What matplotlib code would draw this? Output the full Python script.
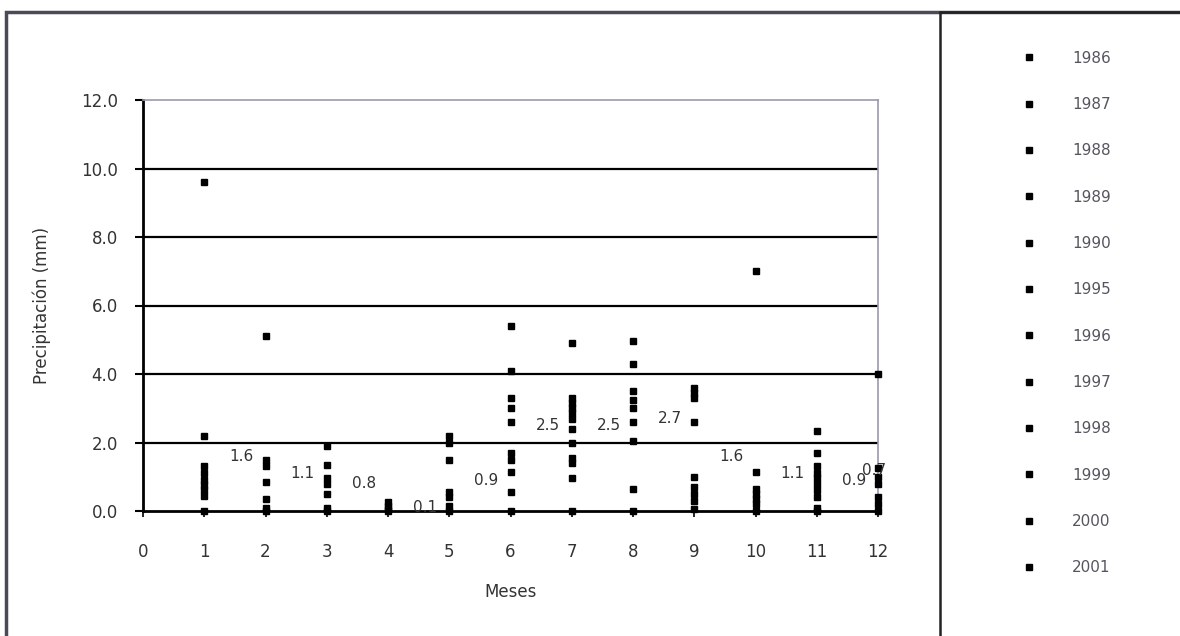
import matplotlib
matplotlib.use("Agg")
import matplotlib.pyplot as plt
from matplotlib.lines import Line2D
from matplotlib.patches import Rectangle

# Precipitation readings per month (mm)
ene = [9.6, 2.2, 1.3, 1.1, 0.9, 0.75, 0.6, 0.45, 0.0]
feb = [5.1, 1.5, 1.3, 0.85, 0.35, 0.1, 0.0]
mar = [1.9, 1.35, 0.95, 0.8, 0.5, 0.1, 0.0]
abr = [0.25, 0.15, 0.05, 0.0]
may = [2.2, 2.0, 1.5, 0.55, 0.4, 0.15, 0.0]
jun = [5.4, 4.1, 3.3, 3.0, 2.6, 1.7, 1.5, 1.15, 0.55, 0.0]
jul = [4.9, 3.3, 3.15, 3.0, 2.85, 2.7, 2.4, 2.0, 1.55, 1.4, 0.95, 0.0]
ago = [4.95, 4.3, 3.5, 3.25, 3.0, 2.6, 2.05, 0.65, 0.0]
sep = [3.6, 3.45, 3.3, 2.6, 1.0, 0.7, 0.5, 0.3, 0.05]
oct_ = [7.0, 1.15, 0.65, 0.5, 0.35, 0.2, 0.0]
nov = [2.35, 1.7, 1.3, 1.1, 0.95, 0.8, 0.6, 0.4, 0.1, 0.0]
dic = [4.0, 1.25, 1.0, 0.8, 0.4, 0.2, 0.0]
monthly = [ene, feb, mar, abr, may, jun, jul, ago, sep, oct_, nov, dic]

years = ["1986", "1987", "1988", "1989", "1990", "1995",
         "1996", "1997", "1998", "1999", "2000", "2001"]

# monthly mean labels
label_month = [2, 3, 4, 5, 6, 7, 8, 9, 10, 11, 12, 12]
label_value = [1.6, 1.1, 0.8, 0.1, 0.9, 2.5, 2.5, 2.7, 1.6, 1.1, 0.9, 0.7]

plt.rcParams['font.family'] = ['DejaVu Sans']

W, H = 1180, 636
fig = plt.figure(figsize=(W / 100, H / 100), dpi=100)
fig.patch.set_facecolor('white')

# outer chart frame and legend box
fig.patches.append(Rectangle((6 / W, -0.05), 1.1, 1 - 12 / H + 0.05,
                             transform=fig.transFigure, fill=False,
                             edgecolor='#4a4a58', linewidth=2.5))
fig.patches.append(Rectangle((940 / W, -0.05), 1.1, 1 - 12 / H + 0.05,
                             transform=fig.transFigure, fill=False,
                             edgecolor='#222222', linewidth=1.8))

ax = fig.add_axes([143 / W, 1 - 511 / H, 735 / W, 411 / H])

for i, vals in enumerate(monthly):
    ax.plot([i + 1] * len(vals), vals, linestyle='none', marker='s',
            markersize=4, color='black', clip_on=False, zorder=4)

ax.set_xlim(0, 12)
ax.set_ylim(0, 12)
ax.set_xticks(range(0, 13))
ax.set_yticks([0, 2, 4, 6, 8, 10, 12])
ax.set_yticklabels([f"{v:.1f}" for v in [0, 2, 4, 6, 8, 10, 12]])

for yv in [2, 4, 6, 8, 10]:
    ax.axhline(yv, color='black', linewidth=1.6, zorder=1)

for side in ['top', 'right']:
    ax.spines[side].set_color('#9a9aaa')
    ax.spines[side].set_linewidth(1.2)
for side in ['left', 'bottom']:
    ax.spines[side].set_color('black')
    ax.spines[side].set_linewidth(2)

ax.tick_params(axis='y', direction='out', length=6, width=1.5, pad=12,
               labelsize=12, labelcolor='#333333')
ax.tick_params(axis='x', direction='out', length=4, width=1.2, pad=19,
               labelsize=12, labelcolor='#333333')

for m, v in zip(label_month, label_value):
    dy = 17 if (m == 12 and v < 0.8) else 0
    dx = -4 if dy else -24
    ax.annotate(f"{v:.1f}", (m, v), xytext=(dx, dy), textcoords='offset pixels',
                ha='center', va='center', fontsize=11, color='#333333', zorder=5)

ax.set_xlabel("Meses", fontsize=12, color='#333333')
ax.set_ylabel("Precipitación (mm)", fontsize=12, color='#333333')
ax.xaxis.set_label_coords(0.5, -0.175)
ax.yaxis.set_label_coords(-0.125, 0.5)

handles = [Line2D([], [], linestyle='none', marker='s', markersize=4, color='black')
           for _ in years]
fig.legend(handles, years, loc='upper left',
           bbox_to_anchor=(1008 / W, 1 - 37 / H), frameon=False,
           fontsize=11, labelspacing=2.05, handlelength=1.0, handletextpad=2.31,
           labelcolor='#555560')

fig.savefig("out.png", dpi=100)
